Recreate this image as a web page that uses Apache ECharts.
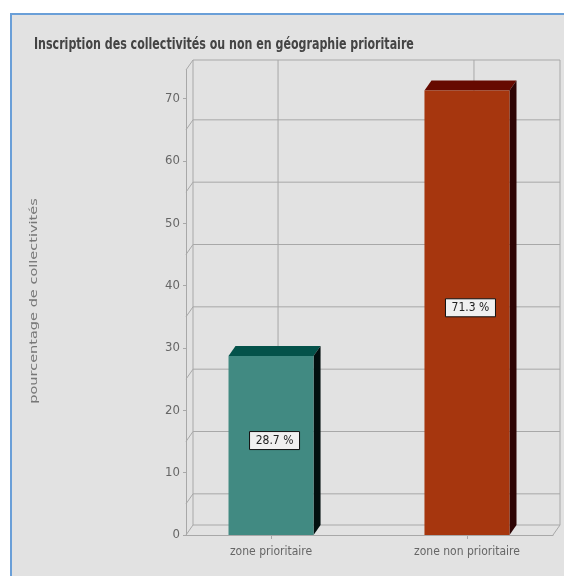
<!DOCTYPE html>
<html>
<head>
<meta charset="utf-8">
<style>html,body{margin:0;padding:0;background:#fff}#chart{width:564px;height:576px}</style>
<script src="https://cdn.jsdelivr.net/npm/echarts@6/dist/echarts.min.js"></script>
</head>
<body>
<div id="chart"></div>
<script>
var categories = ['zone prioritaire', 'zone non prioritaire'];
var values = [28.7, 71.3];
var valueLabels = ['28.7 %', '71.3 %'];
var yTicks = [0, 10, 20, 30, 40, 50, 60, 70];
var wallLevels = [0, 5, 15, 25, 35, 45, 55, 65, 74.6];
var xTicks = [0, 1];
var frontColors = ['#418a82', '#a6360e'];
var topColors = ['#04524a', '#660a00'];
var sideColors = ['#020f0f', '#2e0505'];

// decalage de la profondeur 3D
var DX = 7, DY = 10;
var lineColor = '#a8a8a8';
var lineStyle = {stroke: lineColor, lineWidth: 1, fill: null};
var narrow = '"DejaVu Sans Condensed"';

function seg(x1, y1, x2, y2) {
	return {type: 'line', shape: {x1: x1, y1: y1, x2: x2, y2: y2}, style: lineStyle, silent: true};
}

// parois: mur du fond, mur gauche, sol
function renderWall(params, api) {
	var v = api.value(0);
	var c = params.coordSys;
	var y = api.coord([0, v])[1];
	var left = c.x, right = c.x + c.width;
	var items = [
		seg(left, y, left + DX, y - DY),
		seg(left + DX, y - DY, right + DX, y - DY)
	];
	if (v === 0) {
		items.push(seg(right, y, right + DX, y - DY));
		items.push(seg(right + DX, y - DY, right + DX, c.y - DY));
		items.push(seg(left + DX, y - DY, left + DX, c.y - DY));
		xTicks.forEach(function (t) {
			var x = api.coord([t, 0])[0] + DX;
			items.push(seg(x, y - DY, x, c.y - DY));
		});
	}
	return {type: 'group', children: items};
}

function renderBar(params, api) {
	var i = params.dataIndex;
	var base = api.coord([api.value(0), 0]);
	var top = api.coord([api.value(0), api.value(1)]);
	var w = api.size([0.434, 0])[0];
	var l = base[0] - w / 2, r = base[0] + w / 2;
	var midY = (base[1] + top[1]) / 2 - DY / 2;
	return {type: 'group', children: [
		{type: 'polygon', shape: {points: [[l, top[1]], [l + DX, top[1] - DY], [r + DX, top[1] - DY], [r, top[1]]]}, style: {fill: topColors[i]}},
		{type: 'polygon', shape: {points: [[r, top[1]], [r + DX, top[1] - DY], [r + DX, base[1] - DY], [r, base[1]]]}, style: {fill: sideColors[i]}},
		{type: 'rect', shape: {x: l, y: top[1], width: w, height: base[1] - top[1]}, style: {fill: frontColors[i]}},
		{type: 'rect', shape: {x: base[0] + 3.5 - 25, y: midY - 9, width: 50, height: 18},
			style: {fill: '#f0f0f0', stroke: '#111', lineWidth: 1}},
		{type: 'text', x: base[0] + 3.5, y: midY, style: {text: valueLabels[i], fill: '#222',
			font: '12px ' + narrow, align: 'center', verticalAlign: 'middle'}}
	]};
}

var myChart = echarts.init(document.getElementById('chart'));
var option = {
	animation: false,
	backgroundColor: '#fff',
	graphic: [{
		type: 'rect', left: 10, top: 13, z: -10,
		shape: {width: 560, height: 570},
		style: {fill: '#e2e2e2', stroke: '#6a9fd8', lineWidth: 2}
	}, {
		type: 'text', x: 34, y: 301, rotation: Math.PI / 2, scaleX: 1.32, z: 5,
		style: {text: 'pourcentage de collectivités', fill: '#777',
			font: '11px "DejaVu Sans"', align: 'center', verticalAlign: 'middle'}
	}, {
		type: 'text', x: 34, y: 45, scaleX: 0.82, z: 5,
		style: {text: 'Inscription des collectivités ou non en géographie prioritaire', fill: '#444',
			font: 'bold 15px ' + narrow, align: 'left', verticalAlign: 'middle'}
	}],
	grid: {left: 186, top: 70, width: 367, height: 465},
	xAxis: {
		type: 'value', min: -0.434, max: 1.439,
		splitLine: {show: false},
		axisLine: {show: true, lineStyle: {color: lineColor}},
		axisTick: {show: true, length: 4, customValues: xTicks, lineStyle: {color: lineColor}},
		axisLabel: {
			customValues: xTicks, margin: 11, color: '#666',
			fontFamily: narrow, fontSize: 12,
			formatter: function (v) { return categories[v]; }
		}
	},
	yAxis: {
		type: 'value', min: 0, max: 74.6,
		splitLine: {show: false},
		axisLine: {show: true, onZero: false, lineStyle: {color: lineColor}},
		axisTick: {show: true, length: 3, customValues: yTicks, lineStyle: {color: lineColor}},
		axisLabel: {customValues: yTicks, margin: 6, color: '#666',
			fontFamily: narrow, fontSize: 13}
	},
	series: [
		{type: 'custom', silent: true, z: 1, renderItem: renderWall, clip: false,
			encode: {x: -1, y: 0}, data: wallLevels.map(function (v) { return [v]; })},
		{type: 'custom', silent: true, z: 2, renderItem: renderBar, clip: false,
			encode: {x: 0, y: 1}, data: values.map(function (v, i) { return [i, v]; })}
	]
};
myChart.setOption(option);
</script>
</body>
</html>
